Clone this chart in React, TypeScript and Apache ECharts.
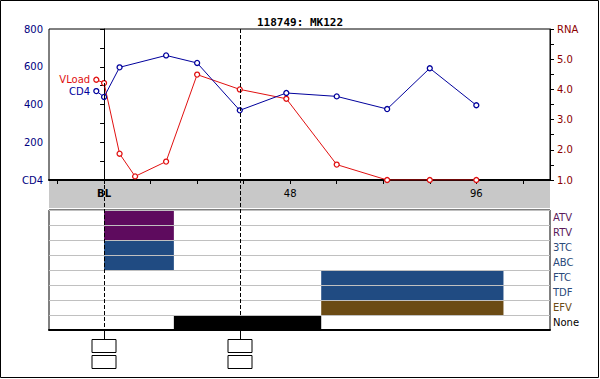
import React, { useEffect, useRef } from "react";
import * as echarts from "echarts";

const titleText = "118749: MK122";
const cd4Weeks = [-2, 0, 4, 16, 24, 35, 47, 60, 73, 84, 96];
const cd4Values = [471, 440, 597, 660, 620, 369, 461, 443, 376, 592, 396];
const vlWeeks = [-2, 0, 4, 8, 16, 24, 35, 47, 60, 73, 84, 96];
const vlValues = [4.32, 4.21, 1.87, 1.12, 1.61, 4.49, 4.0, 3.69, 1.51, 1.0, 1.0, 1.0];
const xTicks = [-12, 0, 12, 24, 36, 48, 60, 72, 84, 96, 108];
const xLabels = [0, 48, 96];
const drugRows = ["ATV", "RTV", "3TC", "ABC", "FTC", "TDF", "EFV", "None"];
const spanDrug = ["ATV", "RTV", "3TC", "ABC", "FTC", "TDF", "EFV", "None"];
const spanStart = [0, 0, 0, 0, 56, 56, 56, 18];
const spanEnd = [18, 18, 18, 18, 103, 103, 103, 56];
const eventWeeks = [0, 35];

const PURPLE = "#5e0b5e";
const BLUE = "#204b82";
const BROWN = "#6b4b14";
const drugColor: Record<string, string> = {
  ATV: PURPLE, RTV: PURPLE, "3TC": BLUE, ABC: BLUE, FTC: BLUE, TDF: BLUE, EFV: BROWN, None: "#000000",
};
const labelColor: Record<string, string> = {
  ATV: "#5a1a5a", RTV: "#5a1a5a", "3TC": "#2a4a7a", ABC: "#2a4a7a", FTC: "#2a4a7a", TDF: "#2a4a7a", EFV: "#6b4b14", None: "#000000",
};

const XMIN = -14.2;
const XMAX = 115;
const FONT = "DejaVu Sans";

export default function App() {
  const ref = useRef<HTMLDivElement>(null);
  useEffect(() => {
    if (!ref.current) return;
    const chart = echarts.init(ref.current, null, { renderer: "svg" });
    const rich: Record<string, any> = {};
    drugRows.forEach((d, i) => {
      rich["c" + i] = { color: labelColor[d], fontFamily: FONT, fontSize: 10 };
    });
    const option: any = {
      animation: false,
      backgroundColor: "#ffffff",
      title: {
        text: titleText,
        left: "center",
        top: 12,
        textStyle: { fontFamily: "DejaVu Sans Mono", fontWeight: "bold", fontSize: 11, color: "#000" },
      },
      grid: [
        { left: 49, width: 501, top: 29, height: 151, show: true, borderColor: "#000", borderWidth: 1, backgroundColor: "transparent" },
        { left: 49, width: 501, top: 210, height: 120, show: true, borderColor: "#000", borderWidth: 1 },
        { left: 49, width: 501, top: 29, height: 339, show: false },
      ],
      xAxis: [
        {
          gridIndex: 0, type: "value", min: XMIN, max: XMAX,
          splitLine: { show: false },
          axisLine: { show: true, onZero: false, lineStyle: { color: "#000", width: 2 } },
          axisTick: { show: true, length: 4, customValues: xTicks, lineStyle: { color: "#000" } },
          axisLabel: {
            customValues: xLabels, margin: 8, fontFamily: FONT, fontSize: 10, color: "#000",
            formatter: (v: number) => (v === 0 ? "{b|BL}" : String(v)),
            rich: { b: { fontWeight: "bold", fontFamily: FONT, fontSize: 10, color: "#000" } },
          },
        },
        {
          gridIndex: 1, type: "value", min: XMIN, max: XMAX,
          splitLine: { show: false },
          axisLine: { show: true, onZero: false, lineStyle: { color: "#000", width: 2 } },
          axisTick: { show: false }, axisLabel: { show: false },
        },
        { gridIndex: 2, type: "value", min: XMIN, max: XMAX, show: false },
      ],
      yAxis: [
        {
          gridIndex: 0, type: "value", min: 0, max: 800, interval: 200, position: "left",
          splitLine: { show: false },
          axisLine: { show: true, lineStyle: { color: "#000" } },
          axisTick: { show: true, length: 4, lineStyle: { color: "#000" } },
          minorTick: { show: true, splitNumber: 2, length: 4, lineStyle: { color: "#000" } },
          axisLabel: {
            margin: 6, fontFamily: FONT, fontSize: 10, color: "#000080",
            formatter: (v: number) => (v === 0 ? "CD4" : String(v)),
          },
        },
        {
          gridIndex: 0, type: "value", min: 1, max: 6, interval: 1, position: "right",
          splitLine: { show: false },
          axisLine: { show: true, lineStyle: { color: "#000" } },
          axisTick: { show: true, length: 4, lineStyle: { color: "#000" } },
          minorTick: { show: true, splitNumber: 2, length: 4, lineStyle: { color: "#000" } },
          axisLabel: {
            margin: 7, fontFamily: FONT, fontSize: 10, color: "#8b0000",
            formatter: (v: number) => (v === 6 ? "RNA" : v.toFixed(1)),
          },
        },
        {
          gridIndex: 1, type: "category", data: drugRows, inverse: true, position: "right",
          axisLine: { show: false }, axisTick: { show: false },
          splitLine: { show: true, lineStyle: { color: "#c0c0c0", width: 1 } },
          axisLabel: {
            margin: 3, fontFamily: FONT, fontSize: 10,
            formatter: (v: string) => `{c${drugRows.indexOf(v)}|${v}}`,
            rich,
          },
        },
        { gridIndex: 2, type: "value", min: 0, max: 1, show: false },
      ],
      graphic: [
        { type: "rect", z: -10, shape: { x: 0.5, y: 0.5, width: 598, height: 377 }, style: { fill: "none", stroke: "#000", lineWidth: 1 } },
        { type: "rect", z: -5, shape: { x: 49, y: 180, width: 501, height: 28 }, style: { fill: "#c8c8c8" } },
      ],
      series: [
        {
          type: "custom", xAxisIndex: 1, yAxisIndex: 2, z: 2,
          encode: { x: [0, 1], y: 2 },
          data: spanDrug.map((d, i) => [spanStart[i], spanEnd[i], drugRows.indexOf(d)]),
          renderItem: (params: any, api: any) => {
            const s = api.value(0), e = api.value(1), r = api.value(2);
            const p1 = api.coord([s, r]);
            const p2 = api.coord([e, r]);
            const h = api.size([0, 1])[1];
            return {
              type: "rect",
              shape: { x: p1[0], y: p1[1] - h / 2 + 1, width: p2[0] - p1[0], height: h - 1 },
              style: { fill: drugColor[drugRows[r]] },
            };
          },
        },
        {
          name: "VLoad", type: "line", xAxisIndex: 0, yAxisIndex: 1, z: 4,
          data: vlWeeks.map((w, i) => [w, vlValues[i]]),
          symbol: "circle", symbolSize: 5, showAllSymbol: true,
          lineStyle: { color: "#e01010", width: 1 },
          itemStyle: { color: "#ffffff", borderColor: "#e01010", borderWidth: 1.3 },
          label: {
            show: true, position: "left", distance: 3, fontFamily: FONT, fontSize: 10, color: "#e01010",
            formatter: (p: any) => (p.dataIndex === 0 ? "VLoad" : ""),
          },
        },
        {
          name: "CD4", type: "line", xAxisIndex: 0, yAxisIndex: 0, z: 5,
          data: cd4Weeks.map((w, i) => [w, cd4Values[i]]),
          symbol: "circle", symbolSize: 5, showAllSymbol: true,
          lineStyle: { color: "#00009c", width: 1 },
          itemStyle: { color: "#ffffff", borderColor: "#00009c", borderWidth: 1.3 },
          label: {
            show: true, position: "left", distance: 3, fontFamily: FONT, fontSize: 10, color: "#00009c",
            formatter: (p: any) => (p.dataIndex === 0 ? "CD4" : ""),
          },
        },
        {
          type: "custom", xAxisIndex: 2, yAxisIndex: 3, z: 10, silent: true,
          encode: { x: 0 },
          data: eventWeeks.map((w) => [w]),
          renderItem: (params: any, api: any) => {
            const cs = params.coordSys;
            const x = Math.round(api.coord([api.value(0), 0])[0]) + 0.5;
            const top = cs.y;
            const panelBottom = top + 301;
            const boxTop = top + 310;
            return {
              type: "group",
              children: [
                { type: "line", shape: { x1: x, y1: top, x2: x, y2: panelBottom }, style: { stroke: "#000", lineWidth: 1, lineDash: [4, 2] } },
                { type: "line", shape: { x1: x, y1: panelBottom, x2: x, y2: boxTop }, style: { stroke: "#000", lineWidth: 1 } },
                { type: "rect", shape: { x: x - 12.5, y: boxTop + 0.5, width: 24, height: 13 }, style: { fill: "#fff", stroke: "#000", lineWidth: 1 } },
                { type: "rect", shape: { x: x - 12.5, y: boxTop + 16.5, width: 24, height: 13 }, style: { fill: "#fff", stroke: "#000", lineWidth: 1 } },
              ],
            };
          },
        },
      ],
    };
    chart.setOption(option);
    return () => chart.dispose();
  }, []);
  return <div ref={ref} style={{ position: "fixed", left: 0, top: 0, width: 600, height: 379 }} />;
}
